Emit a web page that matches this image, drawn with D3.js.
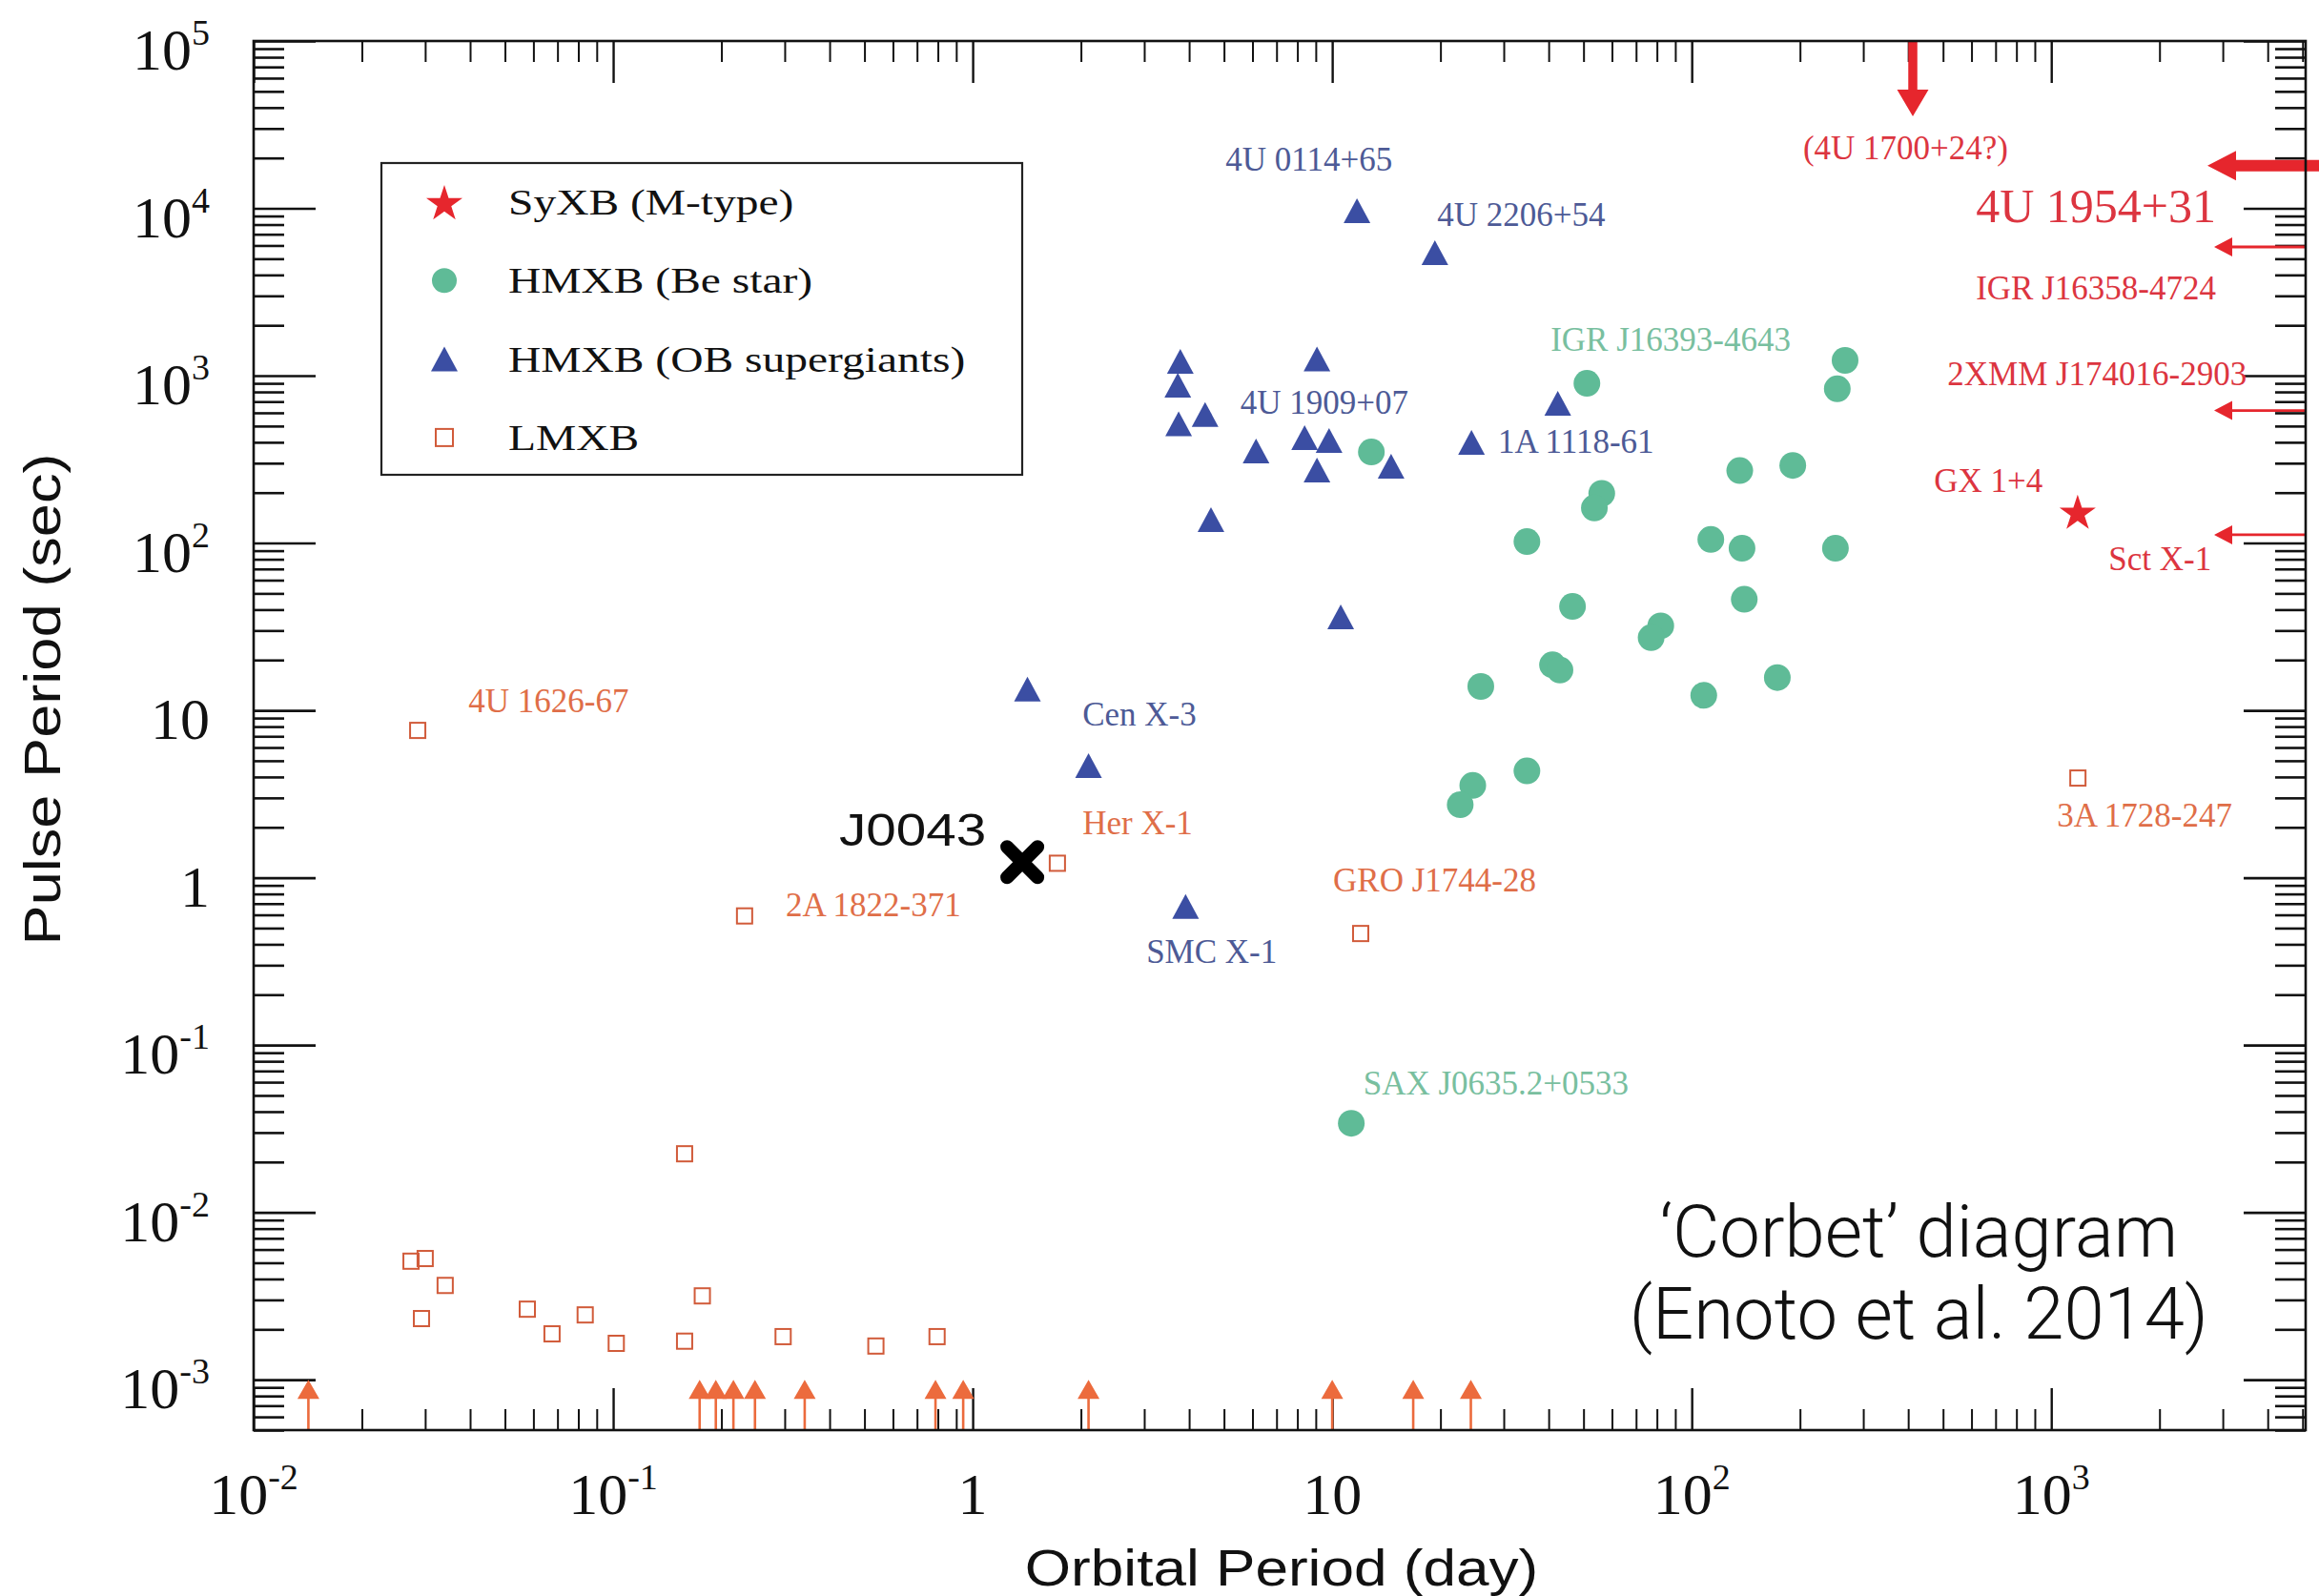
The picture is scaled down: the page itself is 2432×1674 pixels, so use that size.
<!DOCTYPE html>
<html>
<head>
<meta charset="utf-8">
<script src="https://cdn.jsdelivr.net/npm/d3@7"></script>
<style>
  body { margin: 0; background: #fff; }
</style>
</head>
<body>
<div id="chart"></div>
<script>
// HMXB (Be star): [orbital period (day), pulse period (sec)]
const beStar = [
    [12.85, 350], [34.8, 102], [51.1, 900], [267, 1234], [254, 835],
    [136, 271], [191, 291], [56.2, 198], [53.6, 162], [113, 105],
    [138, 93], [251, 93], [46.6, 41.8], [140, 46.1], [82.0, 32.0],
    [77.1, 27.2], [41.0, 18.7], [43.0, 17.4], [25.9, 13.9], [173, 15.7],
    [108, 12.3], [34.8, 4.35], [24.6, 3.56], [22.7, 2.73], [11.3, 0.0341]
];

// HMXB (OB supergiants)
const obSuper = [
    [11.72, 9680], [19.3, 5430], [3.78, 1217], [3.72, 877], [4.43, 587],
    [3.74, 515], [9.07, 1259], [6.14, 355], [8.38, 426], [9.80, 410],
    [9.07, 273], [14.58, 288], [24.4, 399], [42.4, 684], [4.60, 138],
    [10.56, 36.2], [1.42, 13.4], [2.10, 4.67], [3.91, 0.673]
];

// LMXB
const lmxb = [
    [0.0286, 7.59], [0.232, 0.591], [1.72, 1.22], [12.0, 0.464], [1186, 3.94],
    [0.158, 0.0224], [0.0274, 0.00511], [0.0300, 0.00530], [0.0341, 0.00366],
    [0.0293, 0.00232], [0.0577, 0.00264], [0.0676, 0.00188], [0.0836, 0.00244],
    [0.102, 0.00165], [0.158, 0.00170], [0.177, 0.00317], [0.297, 0.00181],
    [0.538, 0.00159], [0.796, 0.00181]
];
// LMXB with pulse period below 1e-3 s (orbital period only)
const lmxbBelow = [0.0142, 0.174, 0.193, 0.216, 0.248, 0.341, 0.788, 0.941, 2.10, 10.0, 16.8, 24.3];

// SyXB (M-type)
const syxbStar = [[1184, 154]];                 // GX 1+4
const syxbPulseOnly = [18000, 5880, 619, 112];  // 4U 1954+31, IGR J16358-4724, 2XMM J174016-2903, Sct X-1
const syxbOrbitOnly = [412];                    // (4U 1700+24?)

// this work
const j0043 = [1.374, 1.24];

// source names, anchored at [orbital, pulse] of the text start / baseline
const sourceLabels = [
    {text: "4U 0114+65", orb: 5.05, pulse: 16800, group: "ob"},
    {text: "4U 2206+54", orb: 19.6, pulse: 7880, group: "ob"},
    {text: "4U 1909+07", orb: 5.55, pulse: 592, group: "ob"},
    {text: "1A 1118-61", orb: 28.9, pulse: 348, group: "ob"},
    {text: "Cen X-3", orb: 2.02, pulse: 8.11, group: "ob"},
    {text: "SMC X-1", orb: 3.04, pulse: 0.309, group: "ob"},
    {text: "IGR J16393-4643", orb: 40.5, pulse: 1416, group: "be"},
    {text: "SAX J0635.2+0533", orb: 12.2, pulse: 0.0506, group: "be"},
    {text: "4U 1626-67", orb: 0.0396, pulse: 9.75, group: "lm"},
    {text: "2A 1822-371", orb: 0.302, pulse: 0.588, group: "lm"},
    {text: "Her X-1", orb: 2.02, pulse: 1.83, group: "lm"},
    {text: "GRO J1744-28", orb: 10.06, pulse: 0.826, group: "lm"},
    {text: "3A 1728-247", orb: 1037, pulse: 2.02, group: "lm"},
    {text: "(4U 1700+24?)", orb: 204, pulse: 19700, group: "sy"},
    {text: "4U 1954+31", orb: 617, pulse: 8310, group: "sy"},
    {text: "IGR J16358-4724", orb: 617, pulse: 2857, group: "sy"},
    {text: "2XMM J174016-2903", orb: 514, pulse: 877, group: "sy"},
    {text: "GX 1+4", orb: 472, pulse: 202, group: "sy"},
    {text: "Sct X-1", orb: 1443, pulse: 68.8, group: "sy"}
];
const bigLabel = "4U 1954+31";

const legendItems = ["SyXB (M-type)", "HMXB (Be star)", "HMXB (OB supergiants)", "LMXB"];

// tick labels (base, exponent)
const xTickLabels = [["10", "-2"], ["10", "-1"], ["1", ""], ["10", ""], ["10", "2"], ["10", "3"]];
const yTickLabels = [["10", "-3"], ["10", "-2"], ["10", "-1"], ["1", ""], ["10", ""],
                     ["10", "2"], ["10", "3"], ["10", "4"], ["10", "5"]];

//画布
const W = 2432, H = 1674;
const margin = {top: 43, right: 14, bottom: 174, left: 266};
const x0 = margin.left, x1 = W - margin.right, y0 = margin.top, y1 = H - margin.bottom;

const serif = "'Liberation Serif', 'Times New Roman', serif";
const sans = "'Liberation Sans', Arial, Helvetica, sans-serif";
const col = {
    ob: "#3b4ea3", obText: "#4d5a96",
    be: "#5fbb97", beText: "#79bf9f",
    lm: "#d15b3a", lmText: "#df6e48", lmArrow: "#ec6b3d",
    sy: "#e6262d", syText: "#dc3540"
};

const svg = d3.select("#chart").append("svg")
    .attr("width", W).attr("height", H)
    .style("background", "#fff");

const x = d3.scaleLog().domain([0.01, 5100]).range([x0, x1]);
const y = d3.scaleLog().domain([5e-4, 1e5]).range([y1, y0]);

//刻度
const isMajor = v => Math.abs(Math.log10(v) - Math.round(Math.log10(v))) < 1e-6;
const xAll = x.ticks(), yAll = y.ticks();
const xMajor = xAll.filter(isMajor), xMinor = xAll.filter(v => !isMajor(v));
const yMajor = yAll.filter(isMajor), yMinor = yAll.filter(v => !isMajor(v));

function tickAxis(axisFn, scale, values, size, tx, ty, sw) {
    let g = svg.append("g")
        .attr("transform", `translate(${tx},${ty})`)
        .call(axisFn(scale).tickValues(values).tickSize(-size).tickFormat(""));
    g.select(".domain").remove();
    g.selectAll(".tick line").attr("stroke", "#111").attr("stroke-width", sw);
}
tickAxis(d3.axisBottom, x, xMinor, 22, 0, y1, 2);
tickAxis(d3.axisBottom, x, xMajor, 44, 0, y1, 2.4);
tickAxis(d3.axisTop, x, xMinor, 22, 0, y0, 2);
tickAxis(d3.axisTop, x, xMajor, 44, 0, y0, 2.4);
tickAxis(d3.axisLeft, y, yMinor, 32, x0, 0, 2.6);
tickAxis(d3.axisLeft, y, yMajor, 65, x0, 0, 2.6);
tickAxis(d3.axisRight, y, yMinor, 32, x1, 0, 2.6);
tickAxis(d3.axisRight, y, yMajor, 65, x1, 0, 2.6);

function powLabel(t, lab) {
    t.append("tspan").text(lab[0]);
    if (lab[1]) t.append("tspan").attr("font-size", 38).attr("dy", -26).text(lab[1]);
}
xMajor.forEach(function (v, i) {
    let t = svg.append("text")
        .attr("x", x(v)).attr("y", y1 + 88)
        .attr("text-anchor", "middle")
        .attr("font-family", serif).attr("font-size", 62).attr("fill", "#111");
    powLabel(t, xTickLabels[i]);
});
yMajor.forEach(function (v, i) {
    let t = svg.append("text")
        .attr("x", x0 - 46).attr("y", y(v) + 30)
        .attr("text-anchor", "end")
        .attr("font-family", serif).attr("font-size", 62).attr("fill", "#111");
    powLabel(t, yTickLabels[i]);
});

//轴标题
svg.append("text")
    .attr("transform", `translate(${(x0 + x1) / 2 + 2},${H - 11}) scale(1.15,1)`)
    .attr("text-anchor", "middle")
    .attr("font-family", sans).attr("font-size", 54).attr("fill", "#111")
    .text("Orbital Period (day)");
svg.append("text")
    .attr("transform", `translate(63,${(y0 + y1) / 2 - 38}) rotate(-90) scale(1.17,1)`)
    .attr("text-anchor", "middle")
    .attr("font-family", sans).attr("font-size", 54).attr("fill", "#111")
    .text("Pulse Period (sec)");

//箭头
function arrowPath(xs, ys, xt, yt, shaft, headL, headW) {
    let dx = xt - xs, dy = yt - ys, L = Math.hypot(dx, dy);
    let ux = dx / L, uy = dy / L, px = -uy, py = ux;
    let bx = xt - ux * headL, by = yt - uy * headL;
    let s = shaft / 2, h = headW / 2;
    let pts = [[xs + px * s, ys + py * s], [bx + px * s, by + py * s], [bx + px * h, by + py * h],
               [xt, yt], [bx - px * h, by - py * h], [bx - px * s, by - py * s], [xs - px * s, ys - py * s]];
    return "M" + pts.map(p => p.join(",")).join("L") + "Z";
}

// LMXB lower arrows
svg.append("g").selectAll("path").data(lmxbBelow).join("path")
    .attr("d", d => arrowPath(x(d), y1, x(d), y(1e-3), 2.6, 20, 23))
    .attr("fill", col.lmArrow);

// SyXB pulse-only arrows from right edge
svg.append("g").selectAll("path").data(syxbPulseOnly).join("path")
    .attr("d", (d, i) => i === 0
        ? arrowPath(W, y(d), x1 - 103, y(d), 12, 30, 31)
        : arrowPath(x1, y(d), x1 - 96, y(d), 2.8, 19, 20))
    .attr("fill", col.sy);
// SyXB orbit-only arrow from top
svg.append("g").selectAll("path").data(syxbOrbitOnly).join("path")
    .attr("d", d => arrowPath(x(d), y0, x(d), y0 + 79, 9.5, 28, 33))
    .attr("fill", col.sy);

//数据点
svg.append("g").selectAll("circle").data(beStar).join("circle")
    .attr("cx", d => x(d[0])).attr("cy", d => y(d[1])).attr("r", 14)
    .attr("fill", col.be);

const triPath = "M0,-13L14,13L-14,13Z";
svg.append("g").selectAll("path").data(obSuper).join("path")
    .attr("d", triPath)
    .attr("transform", d => `translate(${x(d[0])},${y(d[1])})`)
    .attr("fill", col.ob);

svg.append("g").selectAll("rect").data(lmxb).join("rect")
    .attr("x", d => x(d[0]) - 8).attr("y", d => y(d[1]) - 8)
    .attr("width", 16).attr("height", 16)
    .attr("fill", "none").attr("stroke", col.lm).attr("stroke-width", 2);

const starSym = d3.symbol().type(d3.symbolStar).size(449);
svg.append("g").selectAll("path").data(syxbStar).join("path")
    .attr("d", starSym)
    .attr("transform", d => `translate(${x(d[0])},${y(d[1]) + 2})`)
    .attr("fill", col.sy);

// J0043
svg.append("path")
    .attr("d", "M-16,-16L16,16M-16,16L16,-16")
    .attr("transform", `translate(${x(j0043[0])},${y(j0043[1])})`)
    .attr("stroke", "#000").attr("stroke-width", 14).attr("stroke-linecap", "round")
    .attr("fill", "none");
svg.append("text")
    .attr("transform", `translate(${x(1.09)},${y(1.56)}) scale(1.18,1)`)
    .attr("text-anchor", "end")
    .attr("font-family", sans).attr("font-size", 48).attr("fill", "#111")
    .text("J0043");

//源名称
const textCol = {ob: col.obText, be: col.beText, lm: col.lmText, sy: col.syText};
svg.append("g").selectAll("text").data(sourceLabels).join("text")
    .attr("x", d => x(d.orb)).attr("y", d => y(d.pulse))
    .attr("font-family", serif)
    .attr("font-size", d => d.text === bigLabel ? 50 : 35)
    .attr("fill", d => textCol[d.group])
    .text(d => d.text);

//图例
const lg = svg.append("g").attr("transform", "translate(400,171)");
lg.append("rect").attr("width", 672).attr("height", 327)
    .attr("fill", "#fff").attr("stroke", "#222").attr("stroke-width", 2.2);
const rowY = i => 41 + i * 82.3;
lg.append("path").attr("d", starSym).attr("transform", `translate(66,${rowY(0) + 2})`).attr("fill", col.sy);
lg.append("circle").attr("cx", 66).attr("cy", rowY(1)).attr("r", 13).attr("fill", col.be);
lg.append("path").attr("d", triPath).attr("transform", `translate(66,${rowY(2)})`).attr("fill", col.ob);
lg.append("rect").attr("x", 57).attr("y", rowY(3) - 9).attr("width", 18).attr("height", 18)
    .attr("fill", "none").attr("stroke", col.lm).attr("stroke-width", 2);
lg.selectAll("text.item").data(legendItems).join("text")
    .attr("class", "item")
    .attr("transform", (d, i) => `translate(133,${rowY(i) + 13}) scale(1.25,1)`)
    .attr("font-family", serif).attr("font-size", 38).attr("fill", "#111")
    .text(d => d);

//注释
const note = svg.append("text")
    .attr("text-anchor", "middle")
    .attr("font-family", "Roboto, 'Liberation Sans', sans-serif")
    .attr("font-weight", 300).attr("font-size", 76).attr("fill", "#111");
note.append("tspan").attr("x", x(428)).attr("y", y(0.00543)).text("\u2018Corbet\u2019 diagram");
note.append("tspan").attr("x", x(428)).attr("y", y(0.00176)).text("(Enoto et al. 2014)");

//边框
svg.append("rect")
    .attr("x", x0).attr("y", y0).attr("width", x1 - x0).attr("height", y1 - y0)
    .attr("fill", "none").attr("stroke", "#111").attr("stroke-width", 2.6);
</script>
</body>
</html>
